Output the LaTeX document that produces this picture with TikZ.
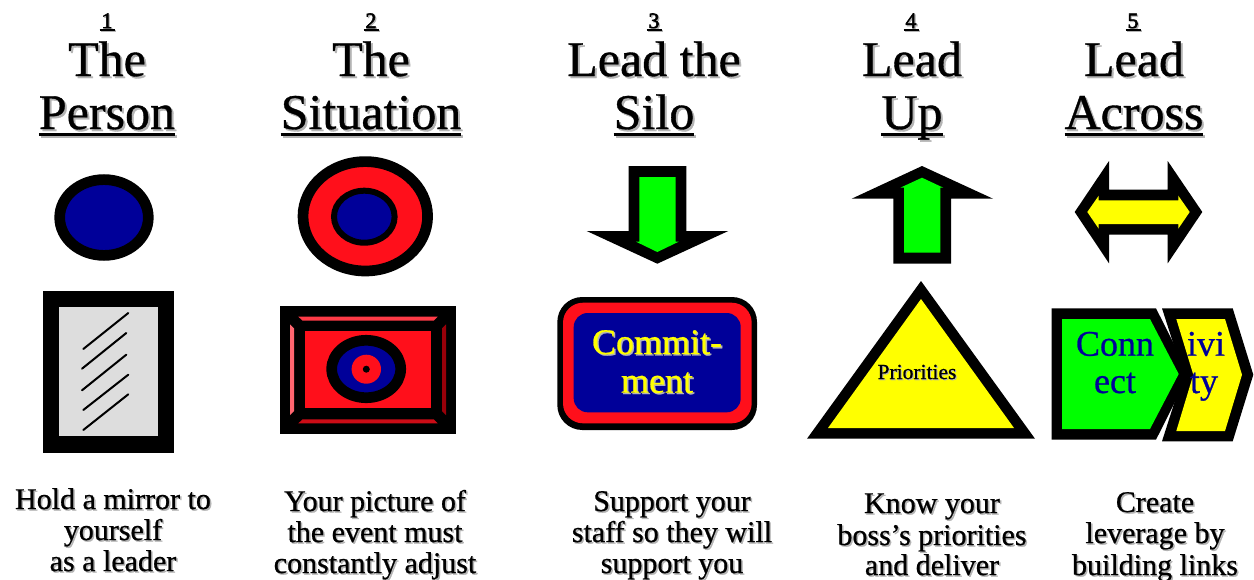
\documentclass[tikz,border=0pt]{standalone}
\usepackage{fontspec}
\setmainfont{Liberation Serif}[FakeBold=0.7]
\newfontfamily\plainf{Liberation Serif}
\newfontfamily\numf{Liberation Serif}[FakeBold=2.5]
\definecolor{navyb}{HTML}{000099}
\definecolor{redb}{HTML}{FF0F1B}
\definecolor{limeb}{HTML}{00FF00}
\definecolor{yelb}{HTML}{FFFF00}
\definecolor{mirrorb}{HTML}{DDDDDD}
\definecolor{shadowb}{HTML}{B4B4B4}
\definecolor{bevtop}{HTML}{FF3B47}
\definecolor{bevleft}{HTML}{FF6670}
\definecolor{bevright}{HTML}{990009}
\definecolor{bevbot}{HTML}{CC0C16}
\tikzset{
  txt/.style={inner sep=0pt,outer sep=0pt,anchor=base},
  ring/.style={draw=black,line width=#1},
  stripe/.style={draw=black,line width=2pt,line cap=round}
}
% shadowed text: name, x, y, size, colour, text
\newcommand{\stx}[7][1.6]{%
  \node[txt,text=shadowb,font=\fontsize{#5}{#5}\selectfont] (#2-s) at (#3+#1,#4+#1) {#7};
  \node[txt,text=#6,font=\fontsize{#5}{#5}\selectfont] (#2) at (#3,#4) {#7};
}
\newcommand{\ulin}[1]{\setbox0=\hbox{#1}\rlap{\rule[-6.5pt]{\wd0}{2.6pt}}\box0}
\newcommand{\ulnum}[1]{\setbox0=\hbox{\numf #1}\rlap{\kern-2pt\rule[-3.2pt]{15pt}{2pt}}\box0}
\begin{document}
\begin{tikzpicture}[x=1pt,y=-1pt]
\useasboundingbox (0,0) rectangle (1254,579);
\fill[white] (0,0) rectangle (1254,579);

% headings
\stx[1.2]{n1}{107}{28}{22}{black}{\ulnum{1}}
\stx[1.2]{n2}{371}{28}{22}{black}{\ulnum{2}}
\stx[1.2]{n3}{654}{28}{22}{black}{\ulnum{3}}
\stx[1.2]{n4}{911}{28}{22}{black}{\ulnum{4}}
\stx[1.2]{n5}{1133}{28}{22}{black}{\ulnum{5}}
\stx[2]{t1a}{107}{76}{50}{black}{The}
\stx[2]{t1b}{107}{129}{50}{black}{\ulin{Person}}
\stx[2]{t2a}{371}{76}{50}{black}{The}
\stx[2]{t2b}{371}{129}{50}{black}{\ulin{Situation}}
\stx[2]{t3a}{654}{76}{50}{black}{Lead the}
\stx[2]{t3b}{654}{129}{50}{black}{\ulin{Silo}}
\stx[2]{t4a}{912}{76}{50}{black}{Lead}
\stx[2]{t4b}{912}{129}{50}{black}{\ulin{Up}}
\stx[2]{t5a}{1134}{76}{50}{black}{Lead}
\stx[2]{t5b}{1134}{129}{50}{black}{\ulin{Across}}

% column 1
\path[ring=10.7pt,fill=navyb] (104,217.5) ellipse [x radius=44.3pt,y radius=37.9pt];
\fill[black] (42.7,290.7) rectangle (174,452.7);
\fill[mirrorb] (58.7,306.7) rectangle (158,436.3);
\draw[stripe] (83.3,349) -- (128.3,313);
\draw[stripe] (82,368.7) -- (126.3,333);
\draw[stripe] (82,390.3) -- (126.3,354.7);
\draw[stripe] (83.3,410) -- (128.3,374.7);
\draw[stripe] (83.3,430) -- (128.3,394.3);

% column 2
\path[ring=10.7pt,fill=redb] (365.3,216.3) ellipse [x radius=62.3pt,y radius=54.7pt];
\path[ring=6pt,fill=navyb] (364.3,216.7) ellipse [x radius=30.3pt,y radius=26pt];
\fill[black] (280,306) rectangle (456,433.7);
\fill[redb] (305,331.3) rectangle (431,408.3);
\fill[bevtop] (298.3,316.7) -- (437.7,316.7) -- (433.7,320.7) -- (302.7,320.7) -- cycle;
\fill[bevleft] (290,324.3) -- (294,328.3) -- (294,411) -- (290,415) -- cycle;
\fill[bevright] (446,324.3) -- (442,328.3) -- (442,411) -- (446,415) -- cycle;
\fill[bevbot] (298.3,423.3) -- (302.7,419.3) -- (433.7,419.3) -- (437.7,423.3) -- cycle;
\path[ring=10.7pt,fill=navyb] (366.2,369) ellipse [x radius=34.5pt,y radius=28.7pt];
\fill[redb] (366.3,369.2) ellipse [x radius=14.7pt,y radius=14.5pt];
\fill[black] (366.3,369.2) circle [radius=3.5pt];

% column 3
\fill[black] (628.7,166) -- (686.3,166) -- (686.3,231) -- (728.3,231) -- (657.3,263.7) -- (586.7,231) -- (628.7,231) -- cycle;
\fill[limeb] (639.3,177) -- (675.7,177) -- (675.7,241.7) -- (678.7,241.7) -- (657.3,252) -- (636,241.7) -- (639.3,241.7) -- cycle;
\fill[black,rounded corners=25pt] (557.3,297) rectangle (757,430);
\fill[redb,rounded corners=20pt] (563,302.7) rectangle (751.7,423.3);
\fill[navyb,rounded corners=14pt] (573.7,313) rectangle (740.7,412.3);
\stx[1.4]{c3a}{657}{354}{36}{yelb}{Commit-}
\stx[1.4]{c3b}{657}{392.7}{36}{yelb}{ment}

% column 4
\fill[black] (922,166) -- (993,198.7) -- (951,198.7) -- (951,263.7) -- (893.3,263.7) -- (893.3,198.7) -- (851.7,198.7) -- cycle;
\fill[limeb] (922,177.7) -- (943.3,187.7) -- (940.3,187.7) -- (940.3,252.7) -- (904,252.7) -- (904,187.7) -- (900.3,187.7) -- cycle;
\fill[black] (921,281) -- (1035,438.7) -- (807,438.7) -- cycle;
\fill[yelb] (921,299) -- (1014,428) -- (828,428) -- cycle;
\stx[1]{c4}{917}{379}{21.5}{black}{Priorities}

% column 5
\fill[black] (1074.7,212) -- (1109,161) -- (1109,189.7) -- (1167.7,189.7) -- (1167.7,161) -- (1202.3,212) -- (1167.7,263.3) -- (1167.7,234.7) -- (1109,234.7) -- (1109,263.3) -- cycle;
\fill[yelb] (1087.3,212) -- (1098.7,195.7) -- (1098.7,200.3) -- (1178.3,200.3) -- (1178.3,195.7) -- (1189.7,212) -- (1178.3,228.7) -- (1178.3,224) -- (1098.7,224) -- (1098.7,228.7) -- cycle;
\fill[black] (1162,308.3) -- (1232.7,308.3) -- (1253.3,374.7) -- (1232.7,441.3) -- (1162,441.3) -- (1183.3,374.7) -- cycle;
\fill[yelb] (1176.3,319) -- (1225,319) -- (1242,374.7) -- (1225,431) -- (1176.3,431) -- (1193.3,374.7) -- cycle;
\fill[black] (1051.7,308.3) -- (1156,308.3) -- (1189,374) -- (1156,439.7) -- (1051.7,439.7) -- cycle;
\fill[limeb] (1062,319) -- (1150,319) -- (1178.7,374) -- (1150,429) -- (1062,429) -- cycle;
\node[txt,text=navyb,font=\fontsize{36}{36}\selectfont] (c5a) at (1115,355.7) {Conn};
\node[txt,text=navyb,font=\fontsize{36}{36}\selectfont] (c5b) at (1115,393) {ect};
\node[txt,text=navyb,font=\fontsize{36}{36}\selectfont] (c5c) at (1206,355.7) {ivi};
\node[txt,text=navyb,font=\fontsize{36}{36}\selectfont] (c5d) at (1204,393) {ty};

% captions
\stx[1.5]{d1a}{113}{509}{30}{black}{Hold a mirror to}
\stx[1.5]{d1b}{113}{540}{30}{black}{yourself}
\stx[1.5]{d1c}{113}{571}{30}{black}{as a leader}
\stx[1.5]{d2a}{375}{511}{30}{black}{Your picture of}
\stx[1.5]{d2b}{375}{542}{30}{black}{the event must}
\stx[1.5]{d2c}{375}{573}{30}{black}{constantly adjust}
\stx[1.5]{d3a}{672}{511}{30}{black}{Support your}
\stx[1.5]{d3b}{672}{542}{30}{black}{staff so they will}
\stx[1.5]{d3c}{672}{573}{30}{black}{support you}
\stx[1.5]{d4a}{932}{513}{30}{black}{Know your}
\stx[1.5]{d4b}{932}{545}{30}{black}{boss’s priorities}
\stx[1.5]{d4c}{932}{575}{30}{black}{and deliver}
\stx[1.5]{d5a}{1155}{512}{30}{black}{Create}
\stx[1.5]{d5b}{1155}{543}{30}{black}{leverage by}
\stx[1.5]{d5c}{1155}{575}{30}{black}{building links}
\end{tikzpicture}
\end{document}
